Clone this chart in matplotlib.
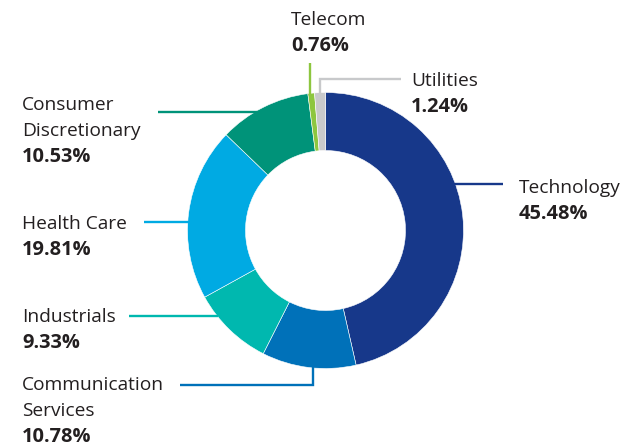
import matplotlib
matplotlib.use("Agg")
import matplotlib.pyplot as plt

sectors = ["Technology", "Communication Services", "Industrials", "Health Care",
           "Consumer Discretionary", "Telecom", "Utilities"]
label_lines = [["Technology"], ["Communication", "Services"], ["Industrials"], ["Health Care"],
               ["Consumer", "Discretionary"], ["Telecom"], ["Utilities"]]
weights = [45.48, 10.78, 9.33, 19.81, 10.53, 0.76, 1.24]
colors = ["#17388A", "#0071B9", "#00B8AF", "#00AAE3", "#009379", "#8DC63F", "#C8C9CB"]

W, H = 641, 448
fig = plt.figure(figsize=(W / 100, H / 100), dpi=100)
ax = fig.add_axes([0, 0, 1, 1])

def Y(y):
    return H - y

cx, cy, R, r_in = 325.5, Y(230.5), 138, 80
ax.pie(weights, colors=colors, startangle=90, counterclock=False, center=(cx, cy),
       radius=R, wedgeprops=dict(width=R - r_in, edgecolor="white", linewidth=0.4),
       frame=True)
ax.set_xlim(0, W)
ax.set_ylim(0, H)
ax.set_aspect("equal")
ax.axis("off")

lw = 1.7
# leader lines (pixel layout)
leaders = {
    "Technology": [(452, 184), (503, 184)],
    "Communication Services": [(313, 366), (313, 385), (180, 385)],
    "Industrials": [(129, 316), (218, 316)],
    "Health Care": [(144, 222), (192, 222)],
    "Consumer Discretionary": [(158, 111.5), (262, 111.5)],
    "Telecom": [(309.5, 63), (309.5, 96)],
    "Utilities": [(319.5, 95), (319.5, 79), (401, 79)],
}
for name, col in zip(sectors, colors):
    pts = leaders[name]
    ax.plot([p[0] for p in pts], [Y(p[1]) for p in pts], color=col, lw=lw,
            solid_capstyle="butt", solid_joinstyle="miter", zorder=1)

# label positions (left x, first line baseline y)
label_pos = {
    "Technology": (519, 193),
    "Communication Services": (22, 390),
    "Industrials": (22, 322.5),
    "Health Care": (22, 229),
    "Consumer Discretionary": (22, 109.5),
    "Telecom": (291, 25),
    "Utilities": (411, 86),
}
step = 26
txt_col = "#231F20"
font = "Open Sans"
fs = 13.8
for name, lines, w in zip(sectors, label_lines, weights):
    x, y = label_pos[name]
    for i, ln in enumerate(lines):
        ax.text(x, Y(y + i * step), ln, fontsize=fs, family=font, color=txt_col,
                ha="left", va="baseline")
    ax.text(x, Y(y + len(lines) * step), f"{w:.2f}%", fontsize=fs + 0.6, family=font,
            fontweight="bold", color=txt_col, ha="left", va="baseline")

fig.savefig("out.png", dpi=100, facecolor="white")
